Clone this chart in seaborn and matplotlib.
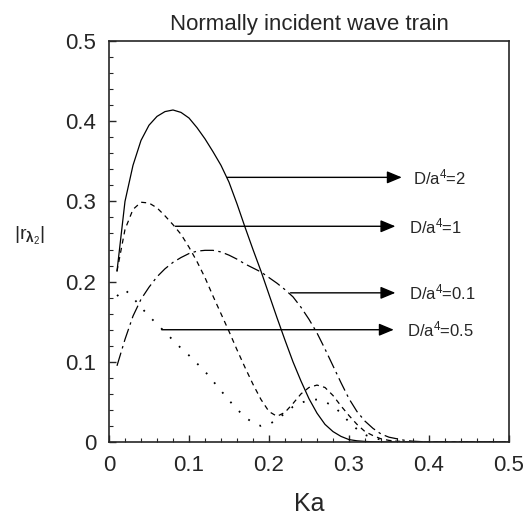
import matplotlib
matplotlib.use("Agg")
import matplotlib.pyplot as plt
import seaborn as sns
import pandas as pd
from matplotlib.ticker import MultipleLocator

# Ka values shared by all curves
ka = [0.01, 0.02, 0.03, 0.04, 0.05, 0.06, 0.07, 0.08, 0.09, 0.10,
      0.11, 0.12, 0.13, 0.14, 0.15, 0.16, 0.17, 0.18, 0.19, 0.20,
      0.21, 0.22, 0.23, 0.24, 0.25, 0.26, 0.27, 0.28, 0.29, 0.30,
      0.31, 0.32, 0.33, 0.34, 0.35, 0.36, 0.37, 0.38, 0.40, 0.45, 0.50]

r_d2 = [0.213, 0.300, 0.345, 0.376, 0.395, 0.406, 0.412, 0.414, 0.411, 0.404,
        0.392, 0.378, 0.362, 0.345, 0.324, 0.297, 0.268, 0.240, 0.213, 0.184,
        0.155, 0.127, 0.100, 0.076, 0.054, 0.036, 0.022, 0.013, 0.007, 0.003,
        0.0015, 0.0007, 0.0003, 0.0001, 0.0, 0.0, 0.0, 0.0, 0.0, 0.0, 0.0]

r_d1 = [0.213, 0.265, 0.290, 0.299, 0.298, 0.292, 0.282, 0.271, 0.259, 0.243,
        0.225, 0.205, 0.182, 0.160, 0.138, 0.115, 0.093, 0.072, 0.053, 0.038,
        0.032, 0.037, 0.048, 0.060, 0.068, 0.071, 0.068, 0.058, 0.045, 0.033,
        0.022, 0.013, 0.008, 0.004, 0.002, 0.001, 0.0005, 0.0002, 0.0, 0.0, 0.0]

r_d01 = [0.095, 0.128, 0.157, 0.178, 0.193, 0.206, 0.216, 0.224, 0.230, 0.235,
         0.238, 0.239, 0.239, 0.237, 0.233, 0.228, 0.222, 0.217, 0.212, 0.205,
         0.198, 0.190, 0.181, 0.168, 0.153, 0.136, 0.116, 0.095, 0.074, 0.054,
         0.038, 0.026, 0.017, 0.010, 0.006, 0.004, 0.002, 0.001, 0.0, 0.0, 0.0]

r_d05 = [0.182, 0.190, 0.180, 0.168, 0.157, 0.147, 0.137, 0.127, 0.117, 0.108,
         0.098, 0.088, 0.076, 0.064, 0.052, 0.041, 0.031, 0.024, 0.020, 0.022,
         0.028, 0.036, 0.044, 0.049, 0.052, 0.053, 0.050, 0.045, 0.036, 0.025,
         0.016, 0.009, 0.005, 0.003, 0.001, 0.0005, 0.0, 0.0, 0.0, 0.0, 0.0]

labels = ["D/a$^4$=2", "D/a$^4$=1", "D/a$^4$=0.1", "D/a$^4$=0.5"]
arrow_y = [0.330, 0.269, 0.186, 0.140]
arrow_x0 = [0.148, 0.083, 0.227, 0.066]
arrow_x1 = [0.366, 0.358, 0.358, 0.356]
label_x = [0.380, 0.375, 0.375, 0.372]
ticks = [0, 0.1, 0.2, 0.3, 0.4, 0.5]
tick_labels = ["0", "0.1", "0.2", "0.3", "0.4", "0.5"]

sns.set_style("ticks")
plt.rcParams['font.family'] = ['Liberation Sans', 'DejaVu Sans']
plt.rcParams['mathtext.fontset'] = 'custom'
plt.rcParams['mathtext.rm'] = 'Liberation Sans'
plt.rcParams['mathtext.it'] = 'Liberation Sans:italic'
plt.rcParams['mathtext.bf'] = 'Liberation Sans:bold'

fig = plt.figure(figsize=(5.25, 5.16), dpi=100)
ax = fig.add_axes([0.2076, 0.1434, 0.7619, 0.7771])

df = pd.DataFrame({"Ka": ka, "d2": r_d2, "d1": r_d1, "d01": r_d01, "d05": r_d05})

sns.lineplot(data=df, x="Ka", y="d2", color="k", lw=0.9, ax=ax)
sns.lineplot(data=df, x="Ka", y="d1", color="k", lw=0.9, ax=ax, linestyle=(0, (4, 3.5)))
sns.lineplot(data=df, x="Ka", y="d01", color="k", lw=0.9, ax=ax, linestyle=(0, (11, 3.5, 2, 3.5)))
sns.lineplot(data=df, x="Ka", y="d05", color="k", lw=1.3, ax=ax, linestyle=(0, (1, 6)))

for lab, y, x0, x1, lx in zip(labels, arrow_y, arrow_x0, arrow_x1, label_x):
    ax.annotate("", xy=(x1, y), xytext=(x0, y),
                arrowprops=dict(arrowstyle="-|>,head_length=0.6,head_width=0.25",
                                color="k", lw=1.0, mutation_scale=15,
                                shrinkA=0, shrinkB=0))
    ax.text(lx, y, lab, fontsize=12, va="center", ha="left")

ax.set_xlim(0, 0.5)
ax.set_ylim(0, 0.5)
ax.set_xticks(ticks)
ax.set_yticks(ticks)
ax.set_xticklabels(tick_labels)
ax.set_yticklabels(tick_labels)
ax.xaxis.set_minor_locator(MultipleLocator(0.02))
ax.yaxis.set_minor_locator(MultipleLocator(0.02))
ax.tick_params(which="major", direction="in", length=5, width=1, labelsize=16, pad=9)
ax.tick_params(which="minor", direction="in", length=3, width=0.8)
for s in ax.spines.values():
    s.set_linewidth(1.2)

ax.set_title("Normally incident wave train", fontsize=16, pad=8)
ax.set_xlabel("Ka", fontsize=18, labelpad=12)
ax.set_ylabel(r"$|\mathrm{r}_{\mathbf{\lambda}_2}|$", fontsize=14, rotation=0)
ax.yaxis.set_label_coords(-0.198, 0.486)

fig.savefig("out.png", dpi=100)
